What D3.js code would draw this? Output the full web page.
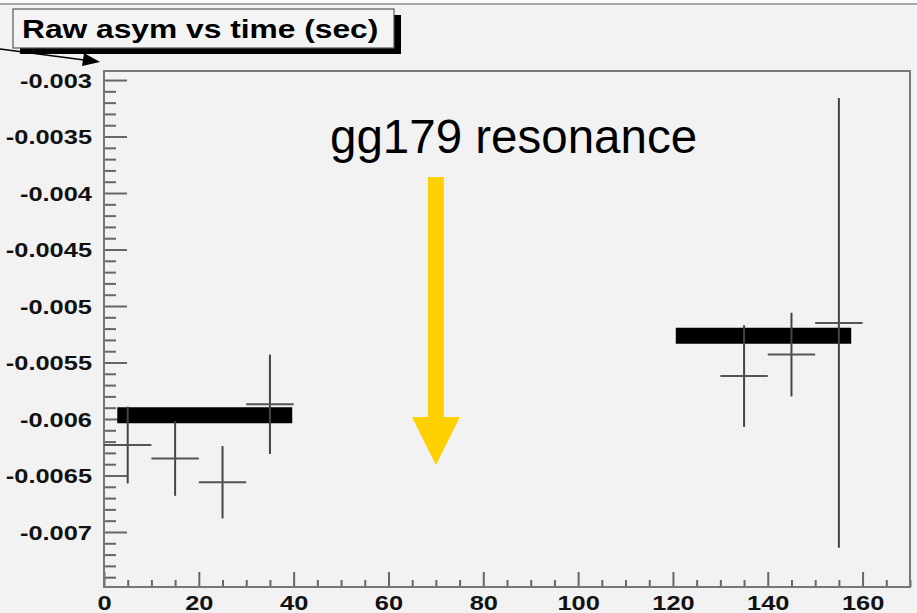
<!DOCTYPE html>
<html>
<head>
<meta charset="utf-8">
<script src="https://cdn.jsdelivr.net/npm/d3@7"></script>
<style>
  html, body { margin: 0; padding: 0; background: #f2f2f2; }
  svg { display: block; }
</style>
</head>
<body>
<svg id="chart" width="917" height="613"></svg>
<script>
// ---- data ----
const timeBins   = [5, 15, 25, 35, 135, 145, 155];          // bin centres (sec)
const binHalf    = [5, 5, 5, 5, 5, 5, 5];                    // half bin width
const asymValues = [-0.00623, -0.00635, -0.00656, -0.00587, -0.00562, -0.00543, -0.00515];
const asymErrors = [0.00034, 0.00033, 0.00032, 0.00044, 0.00045, 0.00037, 0.00199];

const fitStart = [2.8, 120.6];
const fitEnd   = [39.7, 157.6];
const fitValue = [-0.005967, -0.005264];

const yMajorTicks  = [-0.003, -0.0035, -0.004, -0.0045, -0.005, -0.0055, -0.006, -0.0065, -0.007];
const yTickLabels  = ["-0.003", "-0.0035", "-0.004", "-0.0045", "-0.005", "-0.0055", "-0.006", "-0.0065", "-0.007"];
const xMajorTicks  = [0, 20, 40, 60, 80, 100, 120, 140, 160];
const xTickLabels  = ["0", "20", "40", "60", "80", "100", "120", "140", "160"];

const titleText      = "Raw asym vs time (sec)";
const annotationText = "gg179 resonance";
const resonanceTime  = 70;

(function () {
// ---- layout ----
const svg = d3.select("#chart");
const W = 917, H = 613;
const pLeft = 104, pRight = 910, pTop = 71, pBottom = 587;
const stretch = 1.27;  // ROOT text appears horizontally stretched

const x = d3.scaleLinear().domain([0, 170]).range([pLeft, pRight]);
const y = d3.scaleLinear().domain([-0.007487, -0.00292]).range([pBottom, pTop]);

// background
svg.append("rect").attr("x", 0).attr("y", 0).attr("width", W).attr("height", H).attr("fill", "#f2f2f2");
svg.append("rect").attr("x", 0).attr("y", 0).attr("width", W).attr("height", 3).attr("fill", "#fbfbfb");
svg.append("line").attr("x1", 0).attr("x2", W).attr("y1", 4).attr("y2", 4)
  .attr("stroke", "#a8a8a8").attr("stroke-width", 2);

// minor tick values
const yMinor = d3.range(0, 45).map(i => -0.003 - i * 0.0001)
  .filter(v => !yMajorTicks.some(m => Math.abs(m - v) < 1e-9) && v >= -0.00745);
const xMinor = d3.range(0, 35).map(i => i * 5)
  .filter(v => v % 20 !== 0 && v <= 170);

const tickColor = "#666";

// y axis
const yAxisMinor = d3.axisLeft(y).tickValues(yMinor).tickSize(-12).tickSizeOuter(0).tickFormat("");
const gyMinor = svg.append("g").attr("transform", `translate(${pLeft},0)`).call(yAxisMinor);
const yAxis = d3.axisLeft(y).tickValues(yMajorTicks).tickSize(-23).tickSizeOuter(0).tickPadding(12)
  .tickFormat((d, i) => yTickLabels[i]);
const gy = svg.append("g").attr("transform", `translate(${pLeft},0)`).call(yAxis);

// x axis
const xAxisMinor = d3.axisBottom(x).tickValues(xMinor).tickSize(-7).tickSizeOuter(0).tickFormat("");
const gxMinor = svg.append("g").attr("transform", `translate(0,${pBottom})`).call(xAxisMinor);
const xAxis = d3.axisBottom(x).tickValues(xMajorTicks).tickSize(-15).tickSizeOuter(0).tickPadding(9)
  .tickFormat((d, i) => xTickLabels[i]);
const gx = svg.append("g").attr("transform", `translate(0,${pBottom})`).call(xAxis);

[gyMinor, gy, gxMinor, gx].forEach(g => {
  g.select(".domain").remove();
  g.selectAll(".tick line").attr("stroke", tickColor).attr("stroke-width", 2);
});

gy.selectAll(".tick text")
  .attr("font-family", "'Liberation Sans', Arial, sans-serif")
  .attr("font-weight", "bold").attr("font-size", 20).attr("fill", "#111")
  .attr("x", -12 / stretch).attr("dy", "0.36em")
  .attr("transform", `scale(${stretch},1)`);

gx.selectAll(".tick text")
  .attr("font-family", "'Liberation Sans', Arial, sans-serif")
  .attr("font-weight", "bold").attr("font-size", 20).attr("fill", "#111")
  .attr("text-anchor", "middle")
  .attr("transform", `scale(${stretch},1)`)
  .attr("x", 0).attr("y", 23).attr("dy", 0);

// frame
svg.append("rect").attr("x", pLeft).attr("y", pTop).attr("width", pRight - pLeft).attr("height", pBottom - pTop)
  .attr("fill", "none").attr("stroke", "#777").attr("stroke-width", 2);

// fit bars
const fits = fitStart.map((s, i) => ({ s, e: fitEnd[i], v: fitValue[i] }));
svg.append("g").selectAll("line").data(fits).join("line")
  .attr("x1", d => x(d.s)).attr("x2", d => x(d.e))
  .attr("y1", d => y(d.v)).attr("y2", d => y(d.v))
  .attr("stroke", "#000").attr("stroke-width", 16);

// data points with error bars
const pts = timeBins.map((t, i) => ({ t, h: binHalf[i], v: asymValues[i], e: asymErrors[i] }));
const gp = svg.append("g");
gp.selectAll("line.v").data(pts).join("line").attr("class", "v")
  .attr("x1", d => x(d.t)).attr("x2", d => x(d.t))
  .attr("y1", d => y(d.v + d.e)).attr("y2", d => y(d.v - d.e))
  .attr("stroke", "#444").attr("stroke-width", 2);
gp.selectAll("line.h").data(pts).join("line").attr("class", "h")
  .attr("x1", d => x(d.t - d.h)).attr("x2", d => x(d.t + d.h))
  .attr("y1", d => y(d.v)).attr("y2", d => y(d.v))
  .attr("stroke", "#555").attr("stroke-width", 2);

// title box with shadow
svg.append("rect").attr("x", 20).attr("y", 15).attr("width", 381).attr("height", 39).attr("fill", "#000");
svg.append("rect").attr("x", 13).attr("y", 9).attr("width", 381).attr("height", 39)
  .attr("fill", "#f4f4f4").attr("stroke", "#555").attr("stroke-width", 1.2);
svg.append("text").attr("x", 22 / stretch).attr("y", 38)
  .attr("transform", `scale(${stretch},1)`)
  .attr("font-family", "'Liberation Sans', Arial, sans-serif")
  .attr("font-weight", "bold").attr("font-size", 25).attr("fill", "#000")
  .text(titleText);

// black pointer arrow at top-left
svg.append("line").attr("x1", 0).attr("y1", 49).attr("x2", 90).attr("y2", 60.7)
  .attr("stroke", "#000").attr("stroke-width", 1.5);
svg.append("path")
  .attr("d", "M100,62 L84,53 L82,66 Z").attr("fill", "#000");

// annotation text
svg.append("text").attr("x", 330).attr("y", 153)
  .attr("font-family", "'Liberation Sans', Arial, sans-serif")
  .attr("font-size", 47.5).attr("fill", "#000")
  .text(annotationText);

// yellow arrow
const ax = x(resonanceTime);
const shaftTop = 177, headTop = 417, tip = 465, shaftW = 16, headW = 48;
svg.append("path")
  .attr("d", `M${ax - shaftW/2},${shaftTop} L${ax + shaftW/2},${shaftTop} L${ax + shaftW/2},${headTop}
              L${ax + headW/2},${headTop} L${ax},${tip} L${ax - headW/2},${headTop}
              L${ax - shaftW/2},${headTop} Z`)
  .attr("fill", "#ffd000");
})();
</script>
</body>
</html>
